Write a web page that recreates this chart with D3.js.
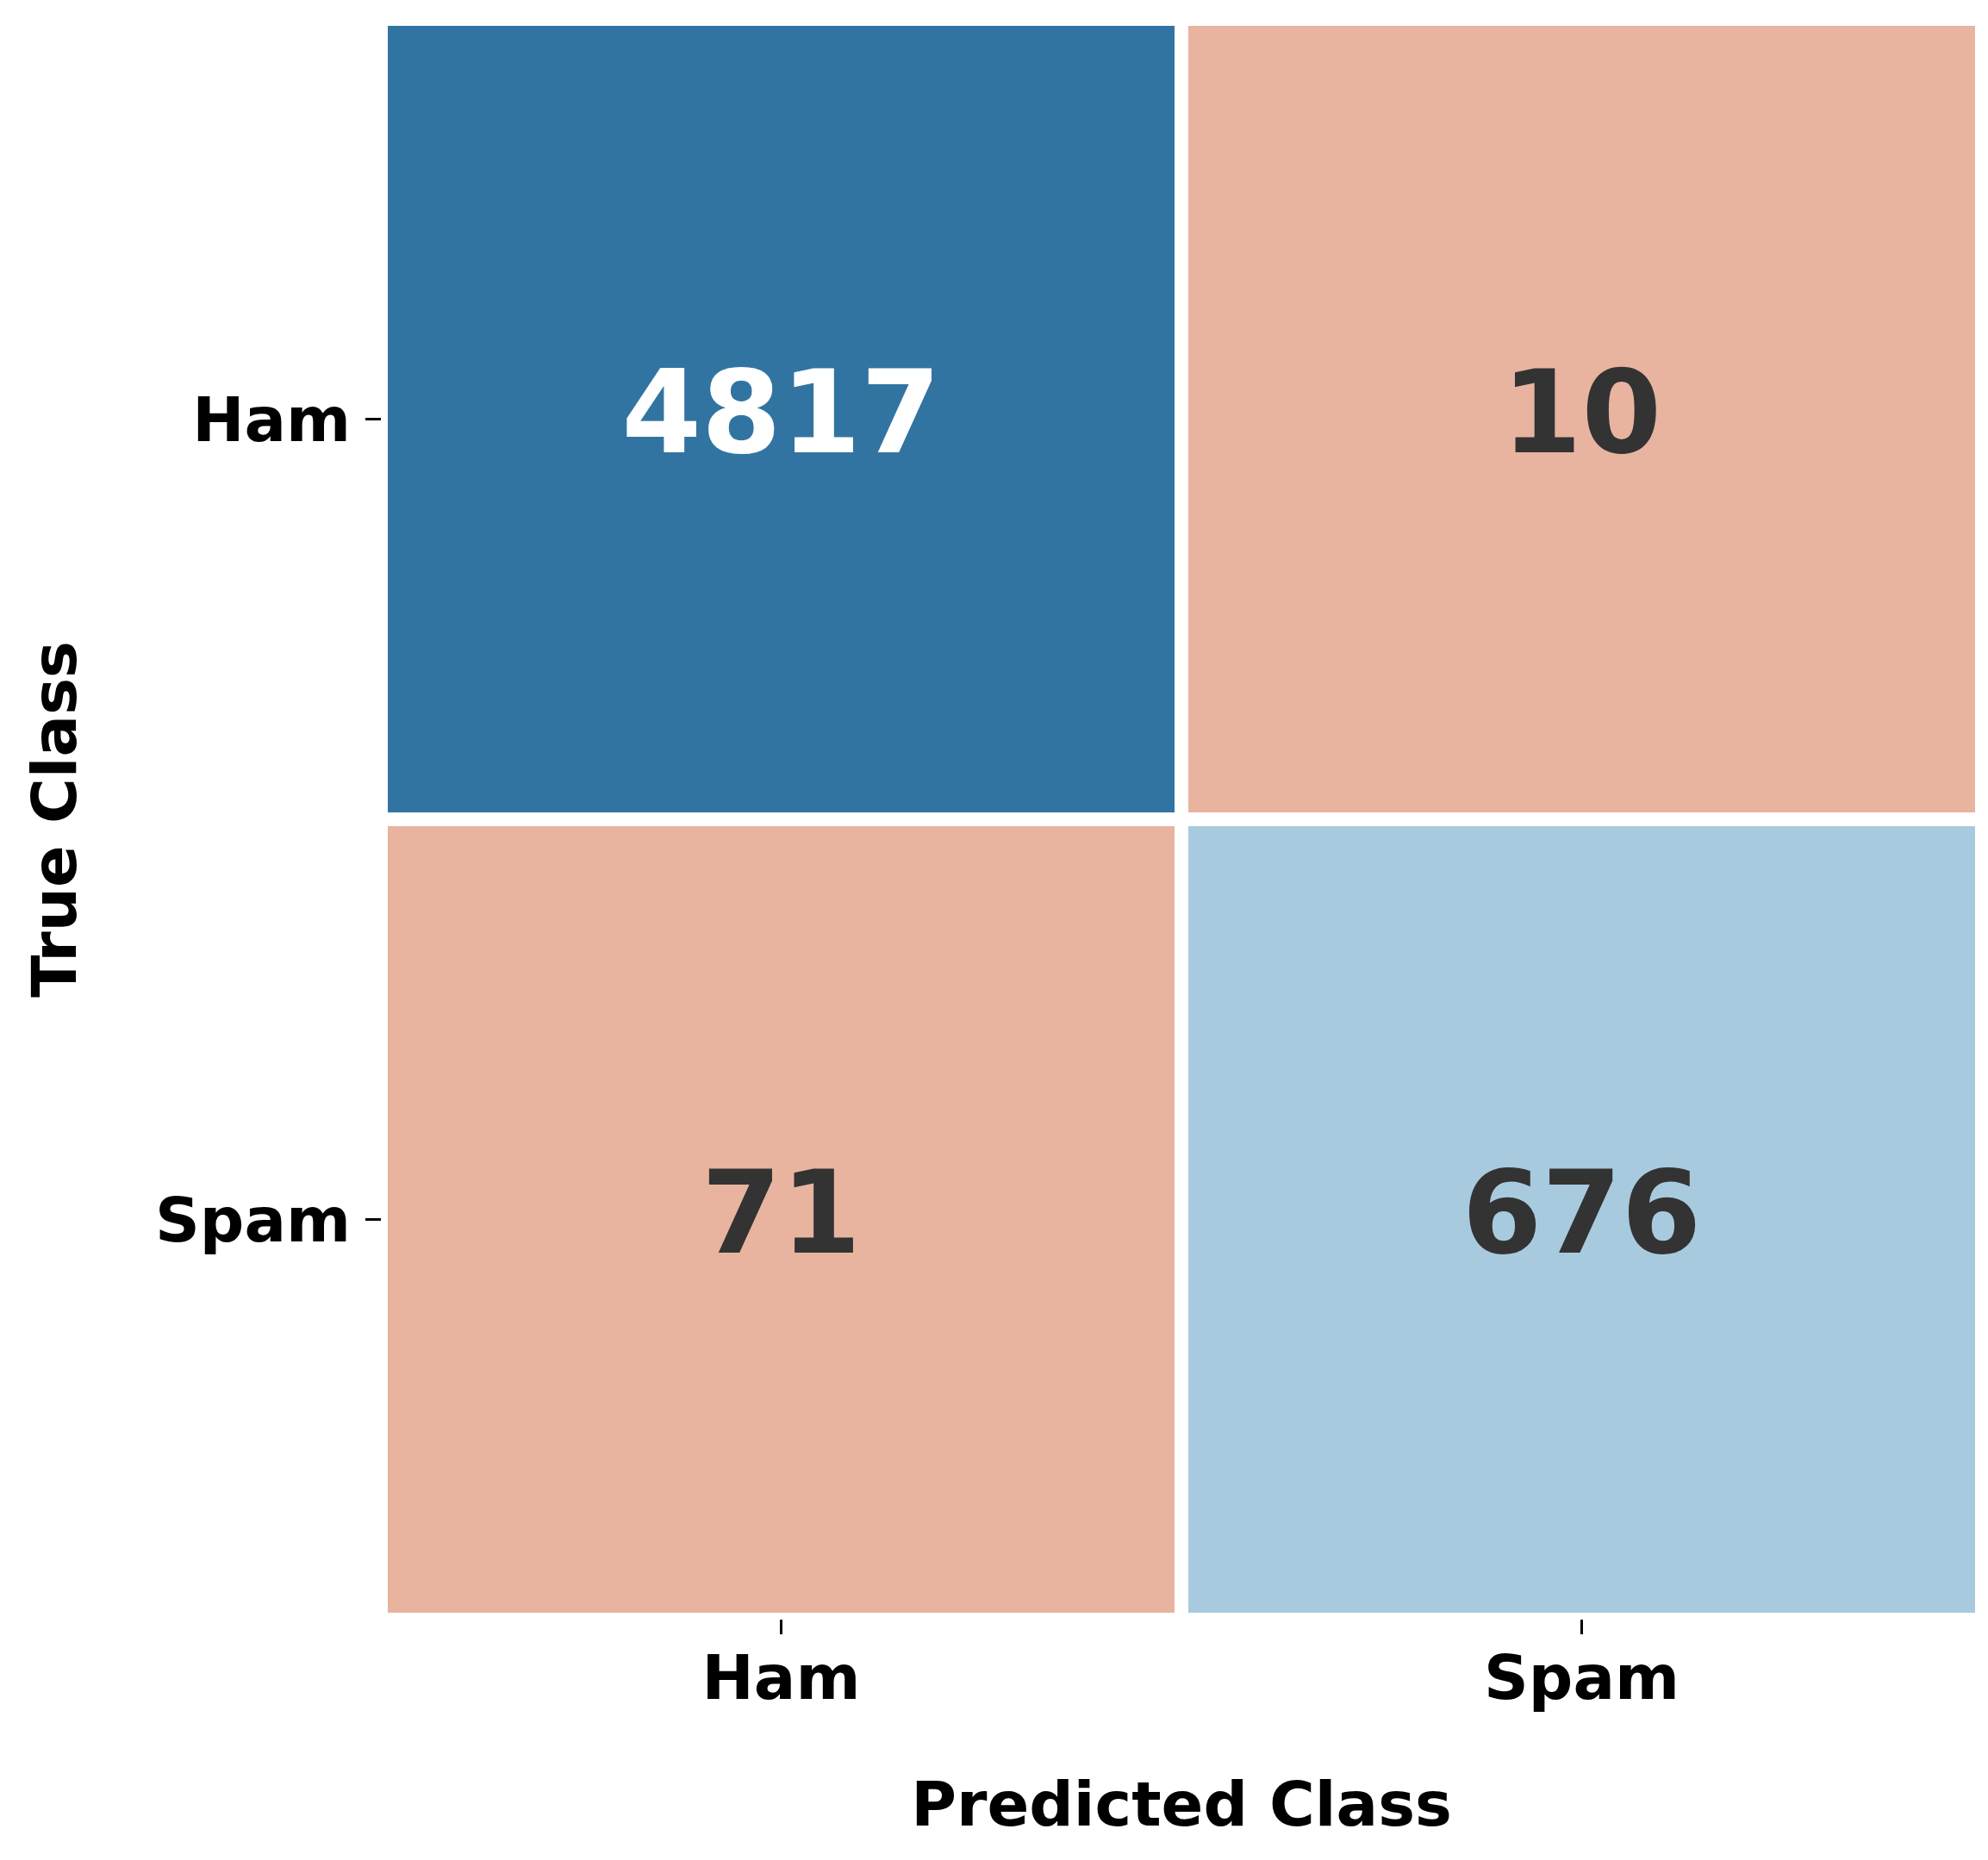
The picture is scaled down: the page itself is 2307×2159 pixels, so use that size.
<!DOCTYPE html>
<html>
<head>
<meta charset="utf-8">
<script src="https://cdn.jsdelivr.net/npm/d3@7"></script>
<style>
    html, body { margin: 0; padding: 0; background: #fff; }
    text { font-family: "DejaVu Sans", sans-serif; font-weight: bold; }
</style>
</head>
<body>
<div id="chart"></div>
<script>
// confusion matrix data
var trueClasses = ['Ham', 'Spam'];
var predictedClasses = ['Ham', 'Spam'];
var counts = [
    [4817, 10],
    [71, 676]
];

var width = 2307, height = 2159;
var margin = {top: 22, right: 7, bottom: 279, left: 442};

var x = d3.scaleBand()
        .domain(predictedClasses)
        .range([margin.left, width - margin.right]);

var y = d3.scaleBand()
        .domain(trueClasses)
        .range([margin.top, height - margin.bottom]);

// light salmon for the errors, blues for the hits
var color = d3.scaleThreshold()
        .domain([100, 1000])
        .range(['#e8b4a0', '#a8cadf', '#3274a1']);

var svg = d3.select('#chart')
        .append('svg')
        .attr('width', width)
        .attr('height', height);

var cells = [];
trueClasses.forEach(function (t, i) {
    predictedClasses.forEach(function (p, j) {
        cells.push({row: t, col: p, value: counts[i][j]});
    });
});

svg.append('g')
        .selectAll('rect')
        .data(cells)
        .enter().append('rect')
        .attr('x', function (d) { return x(d.col); })
        .attr('y', function (d) { return y(d.row); })
        .attr('width', x.bandwidth())
        .attr('height', y.bandwidth())
        .attr('fill', function (d) { return color(d.value); })
        .attr('stroke', '#fff')
        .attr('stroke-width', 16);

// annotations
svg.append('g')
        .selectAll('text')
        .data(cells)
        .enter().append('text')
        .attr('x', function (d) { return x(d.col) + x.bandwidth() / 2; })
        .attr('y', function (d) { return y(d.row) + y.bandwidth() / 2 + 38; })
        .attr('text-anchor', 'middle')
        .attr('font-size', 133)
        .attr('fill', function (d) { return d.value > 1000 ? '#ffffff' : '#333333'; })
        .text(function (d) { return d.value; });

// x axis
var xAxis = svg.append('g')
        .attr('transform', 'translate(0,' + (height - margin.bottom) + ')')
        .call(d3.axisBottom(x).tickSize(17).tickPadding(21));
xAxis.select('.domain').remove();
xAxis.selectAll('line').attr('stroke', '#000').attr('stroke-width', 3);
xAxis.selectAll('text')
        .attr('font-size', 72)
        .attr('fill', '#000')
        .attr('dy', null)
        .attr('y', 1972 - (height - margin.bottom));

// y axis
var yAxis = svg.append('g')
        .attr('transform', 'translate(' + margin.left + ',0)')
        .call(d3.axisLeft(y).tickSize(18).tickPadding(17));
yAxis.select('.domain').remove();
yAxis.selectAll('line').attr('stroke', '#000').attr('stroke-width', 3);
yAxis.selectAll('text')
        .attr('font-size', 72)
        .attr('fill', '#000')
        .attr('dy', '0.36em');

// axis titles
svg.append('text')
        .attr('x', margin.left + (width - margin.right - margin.left) / 2)
        .attr('y', 2119)
        .attr('text-anchor', 'middle')
        .attr('font-size', 72)
        .attr('fill', '#000')
        .text('Predicted Class');

svg.append('text')
        .attr('transform', 'translate(88,' + (margin.top + (height - margin.bottom - margin.top) / 2) + ') rotate(-90)')
        .attr('text-anchor', 'middle')
        .attr('font-size', 72)
        .attr('fill', '#000')
        .text('True Class');
</script>
</body>
</html>
